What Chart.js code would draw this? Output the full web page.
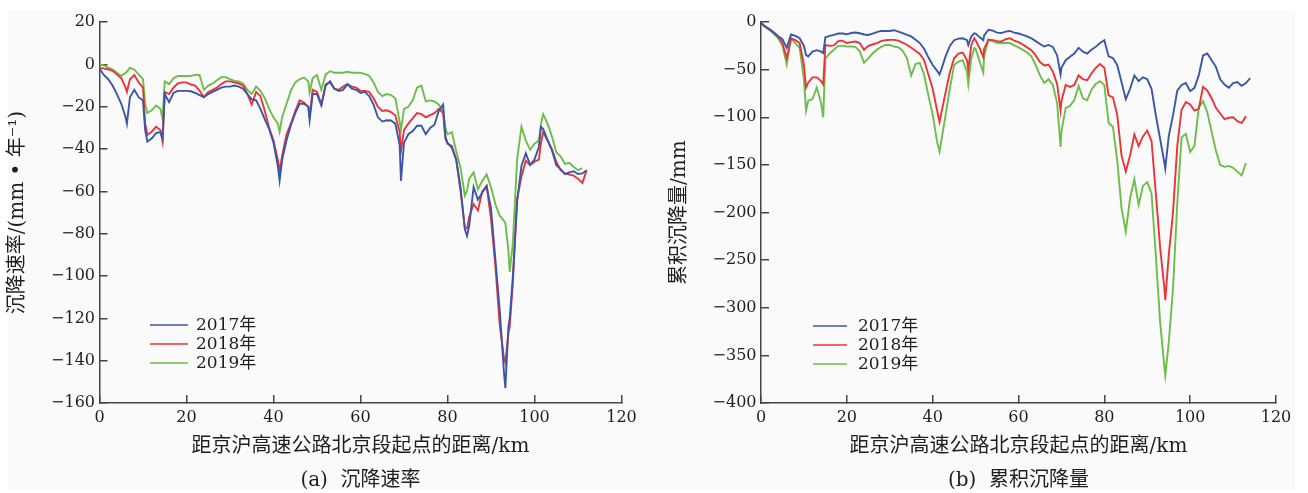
<!DOCTYPE html>
<html>
<head>
<meta charset="utf-8">
<title>京沪高速公路北京段沉降</title>
<script src="https://cdn.jsdelivr.net/npm/chart.js@4.4.1/dist/chart.umd.min.js"></script>
<style>
  html, body { margin: 0; padding: 0; background: #ffffff; }
  #sheet { position: absolute; left: 8px; top: 10px; width: 1287px; height: 480px; background: #fafafa; }
  canvas { position: absolute; top: 0; }
  #rateCanvas { left: 0; }
  #cumCanvas { left: 654px; }
</style>
</head>
<body>
<div id="sheet"></div>
<canvas id="rateCanvas" width="654" height="493"></canvas>
<canvas id="cumCanvas" width="654" height="493"></canvas>
<script>
// ---- (a) settlement rate, mm per year, along the expressway ----
const kmRate = [
  0, 1, 2, 3, 4, 5, 6, 6.3, 7, 8, 9, 10, 10.5, 11, 12, 13, 14, 14.5,
  15, 16, 17, 18, 19, 20, 21, 22, 23, 24, 25, 26, 27, 28, 29, 30, 31, 32, 33, 34, 35, 36, 37, 38, 39, 40, 41, 41.4,
  42, 43, 44, 45, 46, 47, 48, 48.3, 49, 50, 51, 52, 53, 54, 55, 56, 57, 58, 59, 60, 61, 62, 63, 64, 65, 66, 67, 68, 69, 69.3,
  70, 71, 72, 73, 74, 75, 76, 77, 78, 79, 79.5, 80, 81, 82, 83, 84, 84.5,
  85, 86, 87, 88, 89, 90, 91, 92, 93, 93.3, 94, 94.3, 95, 96, 97, 98, 99, 100, 101, 101.5,
  102, 103, 104, 105, 106, 107, 108, 109, 110, 111, 112
];
const rate2017 = [
  -2, -5, -7, -10, -14, -18.6, -25, -28, -15.5, -12, -15.5, -17, -31, -36.5, -35, -32.5, -32, -35,
  -14, -17.8, -13.5, -12.5, -12.5, -12.5, -12.7, -13.5, -14.5, -15.5, -14, -13, -12, -11, -10.5, -10.5, -10, -10.5, -11.5, -14, -16.5, -17, -21, -26, -30.5, -37, -48, -55,
  -45, -35.7, -28.7, -23, -18.6, -18.6, -20, -26.4, -14, -14, -19.4, -10, -8, -11.5, -12.5, -12, -9.3, -11.5, -12, -13.5, -13, -15, -19, -25, -27, -26.4, -26.5, -28, -38, -55,
  -37, -33, -31.5, -29, -29, -33, -30, -28.5, -22, -19, -34, -37, -39.5, -45, -58, -78, -81,
  -76, -58, -64, -60.5, -57.5, -68, -92, -116, -146, -153, -124, -120, -101, -65, -48, -42, -47.5, -45, -39, -29.5,
  -30.5, -35.7, -40.5, -47.5, -49.5, -51.8, -51, -50.5, -51.8, -51.5, -50
];
const rate2018 = [
  -1.5, -2, -2.3, -3, -4.7, -6.5, -11, -13, -7, -5, -8.5, -11, -28, -33.3, -31.8, -29.5, -31, -36.4,
  -13, -14, -11, -9, -8.5, -8.5, -9.5, -10, -12.4, -15.5, -13, -12, -11, -9.3, -8, -8, -8.5, -9, -10, -14, -19, -13, -15, -22, -30, -36, -45, -50.5,
  -43, -33, -28, -22, -17, -18, -20, -24.8, -12, -13, -19, -9.3, -8.5, -11.5, -12, -10.5, -9.3, -10.5, -11, -12.5, -12.5, -13, -16, -20, -22, -21.7, -22.5, -24, -32, -41,
  -31, -28, -25.5, -23, -23.5, -25, -24, -23, -21, -23, -35, -37.5, -38.5, -45, -60, -77.5, -77.5,
  -72, -66, -69, -60, -57.4, -73, -95, -123, -139, -141, -127, -124, -104, -63.6, -53, -45.5, -47.5, -46, -45, -37,
  -32, -36, -40, -46, -50, -51.5, -52, -52.5, -54, -56, -50
];
const rate2019 = [
  0, -0.5, -1.5, -2.3, -3.9, -5.4, -4, -3.5, -1.5, -2.5, -4.7, -7, -18.6, -23, -21.7, -19.4, -21, -25.6,
  -8, -9.3, -6.5, -5.5, -5.5, -5.5, -5.4, -5, -5, -12, -10, -9, -7.5, -6, -6, -7, -7.8, -8, -9, -12, -14, -10.5, -12.5, -16, -21, -25, -28, -31.8,
  -24.8, -18.6, -12.4, -8.5, -7, -6.2, -8, -13.2, -6.5, -5, -12, -4.7, -3.2, -3.9, -3.9, -3.9, -3.5, -3.9, -3.9, -4, -4.5, -5.4, -8.5, -13, -15, -14, -14.5, -16, -27, -31,
  -21, -20, -17, -11, -10, -17.5, -17, -17.5, -19, -22, -30, -33, -32, -41, -49, -62, -59.5,
  -54, -51, -59, -55, -52, -58, -66, -71.5, -74, -75, -88, -98, -85, -45, -29.5, -36, -40.3, -37.5, -36, -28,
  -23.5, -28, -34, -41.5, -43.4, -47, -46.5, -48.5, -50, -49, null
];

// ---- (b) cumulative settlement, mm ----
const kmCum = [
  0, 1, 2, 3, 4, 5, 6, 7, 8, 9, 10, 10.5, 11, 12, 13, 14, 14.5,
  15, 16, 17, 18, 19, 20, 21, 22, 23, 24, 25, 26, 27, 28, 29, 30, 31, 32, 33, 34, 35, 36, 37, 38, 39, 40, 41, 41.6,
  42, 43, 44, 45, 46, 47, 48, 48.3, 49, 49.7, 50, 51, 51.8,
  52, 53, 54, 55, 56, 57, 58, 59, 60, 61, 62, 63, 64, 65, 66, 67, 68, 69, 69.8,
  70, 71, 72, 73, 74, 75, 76, 77, 78, 79, 80, 81, 82, 83, 84, 85, 86, 87, 88, 89, 90, 91, 92, 93, 94, 94.2,
  95, 96, 97, 98, 99, 100, 101, 102, 103, 104, 105, 106, 107, 108, 109, 110, 111, 112, 113, 114
];
const cum2017 = [
  -1, -5, -8, -11, -15, -18, -27, -13, -14.5, -17, -25, -34.5, -36, -31, -29.5, -31, -32.5,
  -16, -14.5, -13.5, -12, -12, -12.8, -11.5, -11, -11.7, -13, -13.5, -12, -10.5, -9.3, -9.3, -9.3, -8.5, -10, -11.5, -13.5, -15, -18.5, -22, -28, -37, -45, -51, -55,
  -50, -36, -25, -19, -17.3, -17, -19, -24, -15, -11.7, -12, -16, -19,
  -14, -8, -9, -11, -11.5, -10, -9.3, -11, -12, -13.5, -15, -17, -20, -23, -25.6, -24, -26, -35, -55,
  -48, -40, -36.5, -33, -27, -31, -33, -29, -26, -22, -19, -36, -37.7, -45, -63, -81, -70, -56, -62, -58, -60, -70, -98, -122.6, -148, -153.7,
  -120, -98, -72, -66, -64, -72.5, -69, -56, -35, -33, -40, -47, -60, -65.6, -69, -64, -63, -67, -64, -58.7
];
const cum2018 = [
  -1, -4.5, -7.3, -11, -15, -22, -37.7, -17, -19, -22, -45, -68.7, -63.6, -58, -58, -62, -65.3,
  -24, -25, -24.5, -20, -19.5, -22, -21, -20.4, -22, -29, -25, -23.5, -22, -20, -19, -18.7, -18.7, -19.5, -21.5, -23.8, -27, -30, -33.5, -40, -55, -70, -92, -105,
  -96, -74, -53, -38, -33, -32, -40, -50, -24, -17, -19, -28, -37,
  -28, -18.7, -19, -20, -20.4, -18, -17, -19.5, -21, -23.5, -26.5, -29.5, -35, -42, -45.5, -44.6, -52, -65, -93,
  -83, -66, -68, -66, -56, -60, -61, -54, -48, -44, -48, -77, -79, -97, -140, -157, -140, -118, -130, -120, -114, -125, -180, -236.6, -280, -292,
  -245, -200, -130, -92, -84, -86.4, -93, -91, -68, -72, -80, -90, -96, -101.9, -100.5, -100, -104, -106, -99, null
];
const cum2019 = [
  -1, -5, -8.3, -12.5, -17, -25, -44.6, -17, -22, -27, -60, -93, -82.6, -80.8, -68.7, -85, -100,
  -38, -33, -29, -25, -25, -25.6, -25.6, -26, -30.7, -42.8, -38, -33, -29, -26, -24, -24, -25.6, -26.5, -30, -37.7, -56, -44, -42.8, -55, -77, -97, -125, -136,
  -125, -98, -70, -45, -41.5, -40, -52, -65, -38, -27.3, -28, -42, -53,
  -36, -18, -20, -22, -22, -22, -22, -24.5, -26.5, -29, -32, -36, -45, -56, -64, -60, -66, -85, -131,
  -115, -90, -88, -82, -67, -80, -82, -71, -65, -62, -66, -106, -110, -145, -195, -220, -185, -165, -192, -172, -168, -180, -245, -315, -362, -371,
  -337, -280, -190, -121, -117.4, -136.4, -130, -90, -83, -95, -115, -135, -150, -152, -151, -153, -157, -161, -148, null
];

// ---- labels and tick values ----
const yearLabels = ['2017年', '2018年', '2019年'];
const distanceTicks = [0, 20, 40, 60, 80, 100, 120];
const rateTicks = [20, 0, -20, -40, -60, -80, -100, -120, -140, -160];
const cumTicks = [0, -50, -100, -150, -200, -250, -300, -350, -400];

const lineColors = ['#3a57a7', '#ea3438', '#6dbd49'];
const TEXT_FONT = "'DejaVu Serif', 'Noto Sans CJK SC', serif";
const INK = '#1e1e1e';
const AXIS = '#454545';

function toPoints(xs, ys) {
  return xs.map((x, i) => ({ x: x, y: ys[i] }));
}
function signed(v) {
  return v < 0 ? '\u2212' + Math.abs(v) : String(v);
}

// legend drawn inside the plot area, one short line + label per series
const insetLegend = {
  id: 'insetLegend',
  afterDatasetsDraw(chart, args, o) {
    const ctx = chart.ctx;
    ctx.save();
    ctx.font = o.fontSize + 'px ' + TEXT_FONT;
    ctx.textBaseline = 'middle';
    ctx.textAlign = 'left';
    chart.data.datasets.forEach((ds, i) => {
      const y = o.y + i * o.rowHeight;
      ctx.strokeStyle = ds.borderColor;
      ctx.lineWidth = 1.6;
      ctx.beginPath();
      ctx.moveTo(o.x, y);
      ctx.lineTo(o.x + o.lineLength, y);
      ctx.stroke();
      ctx.fillStyle = INK;
      ctx.fillText(ds.label, o.x + o.lineLength + o.gap, y + 1);
    });
    ctx.restore();
  }
};

function axisCommon() {
  return {
    grid: { display: true, drawOnChartArea: false, drawTicks: true, tickLength: -8, color: AXIS, lineWidth: 1.5 },
    border: { display: true, color: AXIS, width: 1.5 }
  };
}

function buildChart(canvasId, xs, series, opts) {
  return new Chart(document.getElementById(canvasId), {
    type: 'line',
    data: {
      datasets: series.map((ys, i) => ({
        label: yearLabels[i],
        data: toPoints(xs, ys),
        borderColor: lineColors[i],
        backgroundColor: lineColors[i],
        borderWidth: 1.9,
        pointRadius: 0,
        tension: 0,
        fill: false
      }))
    },
    options: {
      responsive: false,
      animation: false,
      layout: { padding: opts.padding },
      plugins: {
        legend: { display: false },
        tooltip: { enabled: false },
        title: {
          display: true,
          position: 'bottom',
          fullSize: false,
          text: opts.caption,
          color: INK,
          font: { family: TEXT_FONT, size: 20, weight: 'normal' },
          padding: { top: 10, bottom: 0 }
        },
        insetLegend: opts.legend
      },
      scales: {
        x: Object.assign(axisCommon(), {
          type: 'linear',
          min: 0,
          max: 120,
          afterBuildTicks: s => { s.ticks = distanceTicks.map(v => ({ value: v })); },
          afterFit: s => { s.height = 56; },
          ticks: { color: INK, font: { family: TEXT_FONT, size: 16 }, padding: 13.4, maxRotation: 0, autoSkip: false },
          title: {
            display: true,
            text: '距京沪高速公路北京段起点的距离/km',
            color: INK,
            font: { family: TEXT_FONT, size: 20, weight: 'normal' },
            padding: 0
          }
        }),
        y: Object.assign(axisCommon(), {
          type: 'linear',
          min: opts.yTicks[opts.yTicks.length - 1],
          max: opts.yTicks[0],
          afterBuildTicks: s => { s.ticks = opts.yTicks.slice().reverse().map(v => ({ value: v })); },
          afterFit: s => { s.width = opts.yAxisWidth; },
          ticks: { color: INK, font: { family: TEXT_FONT, size: 16 }, padding: 12.5, autoSkip: false, callback: v => signed(v) },
          title: {
            display: true,
            text: opts.yTitle,
            color: INK,
            font: { family: TEXT_FONT, size: 20, weight: 'normal' },
            padding: 0
          }
        })
      }
    },
    plugins: [insetLegend]
  });
}

buildChart('rateCanvas', kmRate, [rate2017, rate2018, rate2019], {
  yTicks: rateTicks,
  yTitle: '沉降速率/(mm • 年⁻¹)',
  caption: '(a)  沉降速率',
  padding: { left: 6, top: 17, right: 32.5, bottom: 0 },
  yAxisWidth: 93.5,
  legend: { x: 150, y: 325, lineLength: 38, gap: 8, rowHeight: 19, fontSize: 17 }
});

buildChart('cumCanvas', kmCum, [cum2017, cum2018, cum2019], {
  yTicks: cumTicks,
  yTitle: '累积沉降量/mm',
  caption: '(b)  累积沉降量',
  padding: { left: 14, top: 17, right: 32, bottom: 0 },
  yAxisWidth: 93,
  legend: { x: 159, y: 326, lineLength: 34, gap: 11, rowHeight: 19, fontSize: 17 }
});
</script>
</body>
</html>
